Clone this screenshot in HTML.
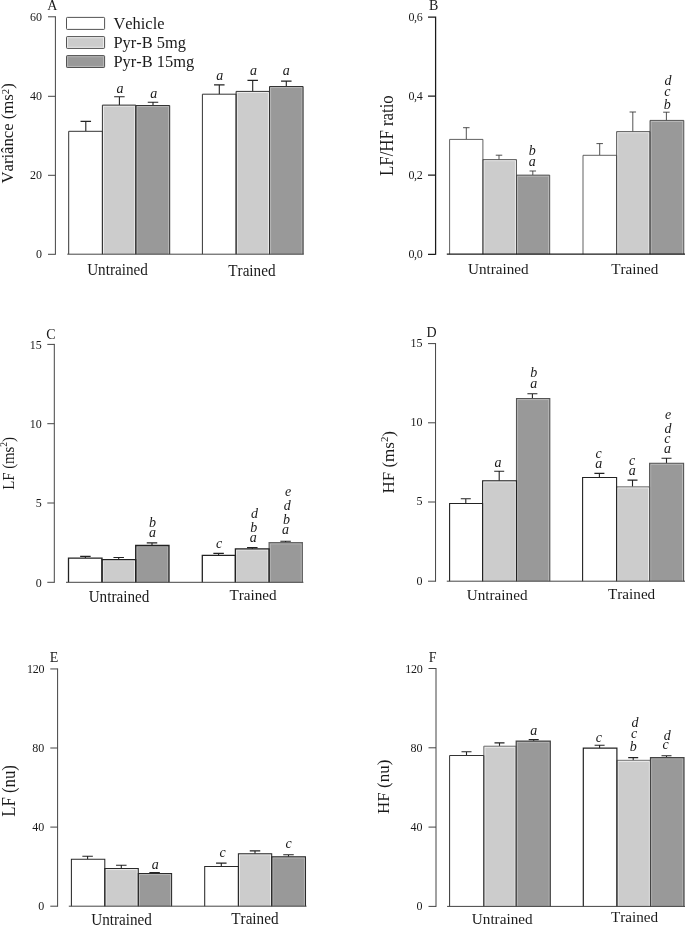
<!DOCTYPE html>
<html lang="en">
<head>
<meta charset="utf-8">
<title>HRV spectral analysis figure</title>
<style>
html,body{margin:0;padding:0;background:#fff;}
svg{display:block;}
text{font-family:"Liberation Serif","Times New Roman",serif;fill:#1a1a1a;font-kerning:none;}
.tk{font-size:12px;text-anchor:end;}
.cat{font-size:15.2px;text-anchor:middle;}
.pl{font-size:14px;}
.sig{font-size:14px;font-style:italic;text-anchor:middle;}
.lg{font-size:16.4px;}
.yl{text-anchor:middle;}
</style>
</head>
<body>
<svg width="685" height="925" viewBox="0 0 685 925">
<rect x="0" y="0" width="685" height="925" fill="#ffffff"/>
<g id="panel-A">
<path d="M85.8 131.3V121.4M80.55 121.4H91.05" stroke="#222" stroke-width="1.1" fill="none"/>
<rect x="68.7" y="131.3" width="33.7" height="122.9" fill="#ffffff"/>
<path d="M119.4 105.1V96.7M114.15 96.7H124.65" stroke="#222" stroke-width="1.1" fill="none"/>
<rect x="102.4" y="105.1" width="33.4" height="149.1" fill="#cccccc"/>
<path d="M103.5 254.2V106.2H134.7V254.2" fill="none" stroke="#fff" stroke-opacity="0.6" stroke-width="1"/>
<path d="M153 105.5V102.3M147.75 102.3H158.25" stroke="#222" stroke-width="1.1" fill="none"/>
<rect x="135.8" y="105.5" width="33.9" height="148.7" fill="#999999"/>
<path d="M136.9 254.2V106.6H168.6V254.2" fill="none" stroke="#fff" stroke-opacity="0.3" stroke-width="1"/>
<path d="M68.7 254.2V131.3H102.4V254.2" fill="none" stroke="#333" stroke-width="1"/>
<path d="M102.4 254.2V105.1H135.8V254.2" fill="none" stroke="#333" stroke-width="1"/>
<path d="M135.8 254.2V105.5H169.7V254.2" fill="none" stroke="#333" stroke-width="1"/>
<text class="sig" x="120.1" y="92.6">a</text>
<text class="sig" x="153.8" y="98">a</text>
<text class="cat" transform="translate(117.5 275) scale(1 1.08)">Untrained</text>
<path d="M219.3 94.2V84.9M214.05 84.9H224.55" stroke="#222" stroke-width="1.1" fill="none"/>
<rect x="202.4" y="94.2" width="33.7" height="160" fill="#ffffff"/>
<path d="M252.7 91.4V80.4M247.45 80.4H257.95" stroke="#222" stroke-width="1.1" fill="none"/>
<rect x="236.1" y="91.4" width="33.4" height="162.8" fill="#cccccc"/>
<path d="M237.2 254.2V92.5H268.4V254.2" fill="none" stroke="#fff" stroke-opacity="0.6" stroke-width="1"/>
<path d="M286.3 86.5V81.1M281.05 81.1H291.55" stroke="#222" stroke-width="1.1" fill="none"/>
<rect x="269.5" y="86.5" width="33.6" height="167.7" fill="#999999"/>
<path d="M270.6 254.2V87.6H302V254.2" fill="none" stroke="#fff" stroke-opacity="0.3" stroke-width="1"/>
<path d="M202.4 254.2V94.2H236.1V254.2" fill="none" stroke="#333" stroke-width="1"/>
<path d="M236.1 254.2V91.4H269.5V254.2" fill="none" stroke="#333" stroke-width="1"/>
<path d="M269.5 254.2V86.5H303.1V254.2" fill="none" stroke="#333" stroke-width="1"/>
<text class="sig" x="219.7" y="79.9">a</text>
<text class="sig" x="253.4" y="75.2">a</text>
<text class="sig" x="286.3" y="75.2">a</text>
<text class="cat" transform="translate(251.9 276.3) scale(1 1.08)">Trained</text>
<path d="M55.4 16.3V254.7M48 254.3H55.4M48 175.3H55.4M48 96.3H55.4M48 16.8H55.4" stroke="#444" stroke-width="1" fill="none"/>
<path d="M67.3 254.2H303.8" stroke="#444" stroke-width="1" fill="none"/>
<text class="tk" x="41.9" y="258.2">0</text>
<text class="tk" x="41.9" y="179.2">20</text>
<text class="tk" x="41.9" y="100.2">40</text>
<text class="tk" x="41.9" y="20.7">60</text>
<text class="pl" x="47.3" y="9.8">A</text>
<text class="yl" font-size="16.7" transform="translate(13 133.4) rotate(-90) scale(1 1.06)">Variânce (ms<tspan dy="-3.51" font-size="10.69">2</tspan><tspan dy="3.51">)</tspan></text>
</g>
<g id="panel-B">
<path d="M466.3 139.4V127.7M463.05 127.7H469.55" stroke="#333" stroke-width="0.85" fill="none"/>
<rect x="449.6" y="139.4" width="33.3" height="114.8" fill="#ffffff"/>
<path d="M499 159.6V155.2M495.75 155.2H502.25" stroke="#333" stroke-width="0.85" fill="none"/>
<rect x="482.9" y="159.6" width="33.6" height="94.6" fill="#cccccc"/>
<path d="M484 254.2V160.7H515.4V254.2" fill="none" stroke="#fff" stroke-opacity="0.6" stroke-width="1"/>
<path d="M532.8 175.1V171M529.55 171H536.05" stroke="#333" stroke-width="0.85" fill="none"/>
<rect x="516.5" y="175.1" width="33.2" height="79.1" fill="#999999"/>
<path d="M517.6 254.2V176.2H548.6V254.2" fill="none" stroke="#fff" stroke-opacity="0.3" stroke-width="1"/>
<path d="M449.6 254.2V139.4H482.9V254.2" fill="none" stroke="#444" stroke-width="0.85"/>
<path d="M482.9 254.2V159.6H516.5V254.2" fill="none" stroke="#444" stroke-width="0.85"/>
<path d="M516.5 254.2V175.1H549.7V254.2" fill="none" stroke="#444" stroke-width="0.85"/>
<text class="sig" x="532.3" y="166">a</text>
<text class="sig" x="532.3" y="154.9">b</text>
<text class="cat" transform="translate(498.3 274) scale(1 1.02)">Untrained</text>
<path d="M599.7 155.3V143.6M596.45 143.6H602.95" stroke="#333" stroke-width="0.85" fill="none"/>
<rect x="583" y="155.3" width="33.6" height="98.9" fill="#ffffff"/>
<path d="M632.8 131.6V112M629.55 112H636.05" stroke="#333" stroke-width="0.85" fill="none"/>
<rect x="616.6" y="131.6" width="33.4" height="122.6" fill="#cccccc"/>
<path d="M617.7 254.2V132.7H648.9V254.2" fill="none" stroke="#fff" stroke-opacity="0.6" stroke-width="1"/>
<path d="M666.4 120.4V112.2M663.15 112.2H669.65" stroke="#333" stroke-width="0.85" fill="none"/>
<rect x="650" y="120.4" width="33.8" height="133.8" fill="#999999"/>
<path d="M651.1 254.2V121.5H682.7V254.2" fill="none" stroke="#fff" stroke-opacity="0.3" stroke-width="1"/>
<path d="M583 254.2V155.3H616.6V254.2" fill="none" stroke="#444" stroke-width="0.85"/>
<path d="M616.6 254.2V131.6H650V254.2" fill="none" stroke="#444" stroke-width="0.85"/>
<path d="M650 254.2V120.4H683.8V254.2" fill="none" stroke="#444" stroke-width="0.85"/>
<text class="sig" x="667.3" y="109.1">b</text>
<text class="sig" x="667.3" y="95.6">c</text>
<text class="sig" x="668" y="85.4">d</text>
<text class="cat" transform="translate(634.8 274.4) scale(1 1.02)">Trained</text>
<path d="M435.6 16.48V254.82M428 254.3H435.6M428 175.2H435.6M428 96.2H435.6M428 17.1H435.6" stroke="#1a1a1a" stroke-width="1.25" fill="none"/>
<path d="M446.8 254.2H685" stroke="#1a1a1a" stroke-width="1.25" fill="none"/>
<text class="tk" x="422.4" y="258.2" letter-spacing="-0.35">0,0</text>
<text class="tk" x="422.4" y="179.1" letter-spacing="-0.35">0,2</text>
<text class="tk" x="422.4" y="100.1" letter-spacing="-0.35">0,4</text>
<text class="tk" x="422.4" y="21" letter-spacing="-0.35">0,6</text>
<text class="pl" x="429" y="10.2">B</text>
<text class="yl" font-size="16.8" transform="translate(392.9 135.6) rotate(-90) scale(1 1.06)">LF/HF ratio</text>
</g>
<g id="panel-C">
<path d="M85.4 558.1V556.4M80.15 556.4H90.65" stroke="#222" stroke-width="1.1" fill="none"/>
<rect x="68.5" y="558.1" width="33.5" height="24.2" fill="#ffffff"/>
<path d="M118.7 559.6V557.5M113.45 557.5H123.95" stroke="#222" stroke-width="1.1" fill="none"/>
<rect x="102" y="559.6" width="33.7" height="22.7" fill="#cccccc"/>
<path d="M103.1 582.3V560.7H134.6V582.3" fill="none" stroke="#fff" stroke-opacity="0.6" stroke-width="1"/>
<path d="M152 545.5V542.9M146.75 542.9H157.25" stroke="#222" stroke-width="1.1" fill="none"/>
<rect x="135.7" y="545.5" width="33.3" height="36.8" fill="#999999"/>
<path d="M136.8 582.3V546.6H167.9V582.3" fill="none" stroke="#fff" stroke-opacity="0.3" stroke-width="1"/>
<path d="M68.5 582.3V558.1H102V582.3" fill="none" stroke="#222" stroke-width="1.3"/>
<path d="M102 582.3V559.6H135.7V582.3" fill="none" stroke="#222" stroke-width="1.3"/>
<path d="M135.7 582.3V545.5H169V582.3" fill="none" stroke="#222" stroke-width="1.3"/>
<text class="sig" x="152.5" y="537.4">a</text>
<text class="sig" x="152.5" y="527.4">b</text>
<text class="cat" transform="translate(119 601.6) scale(1 1.07)">Untrained</text>
<path d="M218.6 555.4V553.4M213.35 553.4H223.85" stroke="#222" stroke-width="1.1" fill="none"/>
<rect x="202.3" y="555.4" width="33.1" height="26.9" fill="#ffffff"/>
<path d="M252.3 548.9V547.6M247.05 547.6H257.55" stroke="#222" stroke-width="1.1" fill="none"/>
<rect x="235.4" y="548.9" width="33.7" height="33.4" fill="#cccccc"/>
<path d="M236.5 582.3V550H268V582.3" fill="none" stroke="#fff" stroke-opacity="0.6" stroke-width="1"/>
<path d="M285.6 542.7V541.3M280.35 541.3H290.85" stroke="#222" stroke-width="1.1" fill="none"/>
<rect x="269.1" y="542.7" width="33.3" height="39.6" fill="#999999"/>
<path d="M270.2 582.3V543.8H301.3V582.3" fill="none" stroke="#fff" stroke-opacity="0.3" stroke-width="1"/>
<path d="M269.1 582.3V542.7H302.4V582.3" fill="none" stroke="#666" stroke-width="1.2"/>
<path d="M202.3 582.3V555.4H235.4V582.3" fill="none" stroke="#222" stroke-width="1.3"/>
<path d="M235.4 582.3V548.9H269.1V582.3" fill="none" stroke="#222" stroke-width="1.3"/>
<text class="sig" x="219" y="548">c</text>
<text class="sig" x="253.2" y="542.3">a</text>
<text class="sig" x="253.8" y="531.7">b</text>
<text class="sig" x="254.4" y="518.4">d</text>
<text class="sig" x="285.5" y="533.7">a</text>
<text class="sig" x="286.5" y="523.5">b</text>
<text class="sig" x="287.2" y="510.2">d</text>
<text class="sig" x="288.1" y="496.3">e</text>
<text class="cat" transform="translate(253 599.7) scale(1 1)">Trained</text>
<path d="M54.3 343.9V582.8M47.3 582.3H54.3M47.3 503H54.3M47.3 423.7H54.3M47.3 344.4H54.3" stroke="#444" stroke-width="1" fill="none"/>
<path d="M66 582.3H303.4" stroke="#444" stroke-width="1" fill="none"/>
<text class="tk" x="41.8" y="586.5">0</text>
<text class="tk" x="41.8" y="507.2">5</text>
<text class="tk" x="41.8" y="427.9">10</text>
<text class="tk" x="41.8" y="348.6">15</text>
<text class="pl" x="46.3" y="338.9">C</text>
<text class="yl" font-size="14.8" transform="translate(13.8 463.4) rotate(-90) scale(1 1.16)">LF (ms<tspan dy="-5.92" font-size="9.47">2</tspan><tspan dy="5.92">)</tspan></text>
</g>
<g id="panel-D">
<path d="M465.8 503.5V498.8M460.8 498.8H470.8" stroke="#222" stroke-width="1.1" fill="none"/>
<rect x="449.6" y="503.5" width="33" height="77.7" fill="#ffffff"/>
<path d="M499.2 480.8V471.3M494.2 471.3H504.2" stroke="#222" stroke-width="1.1" fill="none"/>
<rect x="482.6" y="480.8" width="33.9" height="100.4" fill="#cccccc"/>
<path d="M483.7 581.2V481.9H515.4V581.2" fill="none" stroke="#fff" stroke-opacity="0.6" stroke-width="1"/>
<path d="M532.4 398.5V393.8M527.4 393.8H537.4" stroke="#222" stroke-width="1.1" fill="none"/>
<rect x="516.5" y="398.5" width="33.3" height="182.7" fill="#999999"/>
<path d="M517.6 581.2V399.6H548.7V581.2" fill="none" stroke="#fff" stroke-opacity="0.3" stroke-width="1"/>
<path d="M516.5 581.2V398.5H549.8V581.2" fill="none" stroke="#555" stroke-width="1.1"/>
<path d="M449.6 581.2V503.5H482.6V581.2" fill="none" stroke="#222" stroke-width="1.1"/>
<path d="M482.6 581.2V480.8H516.5V581.2" fill="none" stroke="#222" stroke-width="1.1"/>
<text class="sig" x="497.9" y="467">a</text>
<text class="sig" x="533.7" y="387.8">a</text>
<text class="sig" x="533.7" y="376.9">b</text>
<text class="cat" transform="translate(497.1 600.2) scale(1 1.01)">Untrained</text>
<path d="M599.4 477.5V473.4M594.4 473.4H604.4" stroke="#222" stroke-width="1.1" fill="none"/>
<rect x="582.6" y="477.5" width="34" height="103.7" fill="#ffffff"/>
<path d="M632.5 486.8V480.1M627.5 480.1H637.5" stroke="#222" stroke-width="1.1" fill="none"/>
<rect x="616.6" y="486.8" width="33" height="94.4" fill="#cccccc"/>
<path d="M617.7 581.2V487.9H648.5V581.2" fill="none" stroke="#fff" stroke-opacity="0.6" stroke-width="1"/>
<path d="M666.5 463.2V458.2M661.5 458.2H671.5" stroke="#222" stroke-width="1.1" fill="none"/>
<rect x="649.6" y="463.2" width="34" height="118" fill="#999999"/>
<path d="M650.7 581.2V464.3H682.5V581.2" fill="none" stroke="#fff" stroke-opacity="0.3" stroke-width="1"/>
<path d="M616.6 581.2V486.8H649.6V581.2" fill="none" stroke="#666" stroke-width="0.9"/>
<path d="M649.6 581.2V463.2H683.6V581.2" fill="none" stroke="#555" stroke-width="1.1"/>
<path d="M582.6 581.2V477.5H616.6V581.2" fill="none" stroke="#222" stroke-width="1.1"/>
<text class="sig" x="598.7" y="467.9">a</text>
<text class="sig" x="598.7" y="457.6">c</text>
<text class="sig" x="632.2" y="475">a</text>
<text class="sig" x="632.2" y="465.2">c</text>
<text class="sig" x="667.4" y="453.4">a</text>
<text class="sig" x="667.4" y="442.9">c</text>
<text class="sig" x="668" y="432.7">d</text>
<text class="sig" x="668" y="418.9">e</text>
<text class="cat" transform="translate(631.6 598.5) scale(1 1.01)">Trained</text>
<path d="M435.55 343.1V581.7M428 581.2H435.55M428 502H435.55M428 422.8H435.55M428 343.6H435.55" stroke="#444" stroke-width="1" fill="none"/>
<path d="M446.8 581.2H685" stroke="#444" stroke-width="1" fill="none"/>
<text class="tk" x="422.5" y="584.6">0</text>
<text class="tk" x="422.5" y="505.4">5</text>
<text class="tk" x="422.5" y="426.2">10</text>
<text class="tk" x="422.5" y="347">15</text>
<text class="pl" x="426.5" y="336.7">D</text>
<text class="yl" font-size="17" transform="translate(394.4 462.3) rotate(-90) scale(1 1)">HF (ms<tspan dy="-6.8" font-size="10.88">2</tspan><tspan dy="6.8">)</tspan></text>
</g>
<g id="panel-E">
<path d="M87.6 859.2V856.2M82.35 856.2H92.85" stroke="#222" stroke-width="1.1" fill="none"/>
<rect x="71.4" y="859.2" width="33.4" height="47" fill="#ffffff"/>
<path d="M121.3 868.5V865.2M116.05 865.2H126.55" stroke="#222" stroke-width="1.1" fill="none"/>
<rect x="104.8" y="868.5" width="33.5" height="37.7" fill="#cccccc"/>
<path d="M105.9 906.2V869.6H137.2V906.2" fill="none" stroke="#fff" stroke-opacity="0.6" stroke-width="1"/>
<path d="M154.6 873.5V872.5M149.35 872.5H159.85" stroke="#222" stroke-width="1.1" fill="none"/>
<rect x="138.3" y="873.5" width="33.3" height="32.7" fill="#999999"/>
<path d="M139.4 906.2V874.6H170.5V906.2" fill="none" stroke="#fff" stroke-opacity="0.3" stroke-width="1"/>
<path d="M71.4 906.2V859.2H104.8V906.2" fill="none" stroke="#2a2a2a" stroke-width="1.05"/>
<path d="M104.8 906.2V868.5H138.3V906.2" fill="none" stroke="#2a2a2a" stroke-width="1.05"/>
<path d="M138.3 906.2V873.5H171.6V906.2" fill="none" stroke="#2a2a2a" stroke-width="1.05"/>
<text class="sig" x="155.2" y="869.2">a</text>
<text class="cat" transform="translate(121.6 925) scale(1 1.03)">Untrained</text>
<path d="M221.3 866.4V863.1M216.05 863.1H226.55" stroke="#222" stroke-width="1.1" fill="none"/>
<rect x="204.7" y="866.4" width="33.7" height="39.8" fill="#ffffff"/>
<path d="M255 853.7V850.9M249.75 850.9H260.25" stroke="#222" stroke-width="1.1" fill="none"/>
<rect x="238.4" y="853.7" width="33.3" height="52.5" fill="#cccccc"/>
<path d="M239.5 906.2V854.8H270.6V906.2" fill="none" stroke="#fff" stroke-opacity="0.6" stroke-width="1"/>
<path d="M288.5 856.8V854.7M283.25 854.7H293.75" stroke="#222" stroke-width="1.1" fill="none"/>
<rect x="271.7" y="856.8" width="33.8" height="49.4" fill="#999999"/>
<path d="M272.8 906.2V857.9H304.4V906.2" fill="none" stroke="#fff" stroke-opacity="0.3" stroke-width="1"/>
<path d="M204.7 906.2V866.4H238.4V906.2" fill="none" stroke="#2a2a2a" stroke-width="1.05"/>
<path d="M238.4 906.2V853.7H271.7V906.2" fill="none" stroke="#2a2a2a" stroke-width="1.05"/>
<path d="M271.7 906.2V856.8H305.5V906.2" fill="none" stroke="#2a2a2a" stroke-width="1.05"/>
<text class="sig" x="222.7" y="857.1">c</text>
<text class="sig" x="288.7" y="848.2">c</text>
<text class="cat" transform="translate(254.9 923.8) scale(1 1.03)">Trained</text>
<path d="M57.6 668.45V906.7M50.3 906.2H57.6M50.3 827.1H57.6M50.3 748H57.6M50.3 668.95H57.6" stroke="#444" stroke-width="1" fill="none"/>
<path d="M68.8 906.2H306.5" stroke="#444" stroke-width="1" fill="none"/>
<text class="tk" x="44.3" y="910.4">0</text>
<text class="tk" x="44.3" y="831.3">40</text>
<text class="tk" x="44.3" y="752.2">80</text>
<text class="tk" x="44.3" y="673.15" letter-spacing="-0.25">120</text>
<text class="pl" x="49.7" y="661.5">E</text>
<text class="yl" font-size="16.8" transform="translate(15.2 790.9) rotate(-90) scale(1 1.13)">LF (nu)</text>
</g>
<g id="panel-F">
<path d="M466.5 755.5V751.8M461.5 751.8H471.5" stroke="#222" stroke-width="1.1" fill="none"/>
<rect x="449.6" y="755.5" width="34.2" height="150.9" fill="#ffffff"/>
<path d="M499.5 746.2V742.9M494.5 742.9H504.5" stroke="#222" stroke-width="1.1" fill="none"/>
<rect x="483.8" y="746.2" width="32.4" height="160.2" fill="#cccccc"/>
<path d="M484.9 906.4V747.3H515.1V906.4" fill="none" stroke="#fff" stroke-opacity="0.6" stroke-width="1"/>
<path d="M533.7 741.1V739.6M528.7 739.6H538.7" stroke="#222" stroke-width="1.1" fill="none"/>
<rect x="516.2" y="741.1" width="34.1" height="165.3" fill="#999999"/>
<path d="M517.3 906.4V742.2H549.2V906.4" fill="none" stroke="#fff" stroke-opacity="0.3" stroke-width="1"/>
<path d="M483.8 906.4V746.2H516.2V906.4" fill="none" stroke="#707070" stroke-width="1"/>
<path d="M516.2 906.4V741.1H550.3V906.4" fill="none" stroke="#444" stroke-width="1.2"/>
<path d="M449.6 906.4V755.5H483.8V906.4" fill="none" stroke="#333" stroke-width="1"/>
<text class="sig" x="533.7" y="735.2">a</text>
<text class="cat" transform="translate(502.2 923.9) scale(1 1.02)">Untrained</text>
<path d="M599.6 748.2V745.2M594.6 745.2H604.6" stroke="#222" stroke-width="1.1" fill="none"/>
<rect x="583.3" y="748.2" width="33.6" height="158.2" fill="#ffffff"/>
<path d="M633.2 760.3V757.6M628.2 757.6H638.2" stroke="#222" stroke-width="1.1" fill="none"/>
<rect x="616.9" y="760.3" width="33.6" height="146.1" fill="#cccccc"/>
<path d="M618 906.4V761.4H649.4V906.4" fill="none" stroke="#fff" stroke-opacity="0.6" stroke-width="1"/>
<path d="M666.5 757.6V755.7M661.5 755.7H671.5" stroke="#222" stroke-width="1.1" fill="none"/>
<rect x="650.5" y="757.6" width="33.5" height="148.8" fill="#999999"/>
<path d="M651.6 906.4V758.7H682.9V906.4" fill="none" stroke="#fff" stroke-opacity="0.3" stroke-width="1"/>
<path d="M616.9 906.4V760.3H650.5V906.4" fill="none" stroke="#707070" stroke-width="0.95"/>
<path d="M650.5 906.4V757.6H684V906.4" fill="none" stroke="#444" stroke-width="1.2"/>
<path d="M583.3 906.4V748.2H616.9V906.4" fill="none" stroke="#222" stroke-width="1.2"/>
<text class="sig" x="598.9" y="741.9">c</text>
<text class="sig" x="633.2" y="750.9">b</text>
<text class="sig" x="634.2" y="738.3">c</text>
<text class="sig" x="634.9" y="726.6">d</text>
<text class="sig" x="665.7" y="749.2">c</text>
<text class="sig" x="667.2" y="740.2">d</text>
<text class="cat" transform="translate(634.6 922) scale(1 1.02)">Trained</text>
<path d="M436 668V906.9M428.5 906.4H436M428.5 827.1H436M428.5 747.8H436M428.5 668.5H436" stroke="#444" stroke-width="1" fill="none"/>
<path d="M447.1 906.4H685" stroke="#444" stroke-width="1" fill="none"/>
<text class="tk" x="422.6" y="910.4">0</text>
<text class="tk" x="422.6" y="831.1">40</text>
<text class="tk" x="422.6" y="751.8">80</text>
<text class="tk" x="422.6" y="672.5" letter-spacing="-0.25">120</text>
<text class="pl" x="428.8" y="661.6">F</text>
<text class="yl" font-size="17" transform="translate(389.4 786.8) rotate(-90) scale(1 0.97)">HF (nu)</text>
</g>
<g id="legend">
<rect x="66.5" y="17.4" width="38.1" height="12" rx="0.8" fill="#ffffff" stroke="#4a4a4a" stroke-width="0.95"/>
<text class="lg" x="113.5" y="28.7">Vehicle</text>
<rect x="66.5" y="36.6" width="38.1" height="11.8" rx="0.8" fill="#cccccc" stroke="#4a4a4a" stroke-width="0.95"/>
<rect x="67.6" y="37.7" width="35.9" height="9.6" fill="none" stroke="#fff" stroke-opacity="0.6" stroke-width="1"/>
<text class="lg" x="113.5" y="48.2">Pyr-B 5mg</text>
<rect x="66.5" y="55.6" width="38.1" height="11.9" rx="0.8" fill="#999999" stroke="#4a4a4a" stroke-width="0.95"/>
<rect x="67.6" y="56.7" width="35.9" height="9.7" fill="none" stroke="#fff" stroke-opacity="0.3" stroke-width="1"/>
<text class="lg" x="113.5" y="67.3">Pyr-B 15mg</text>
</g>
</svg>
</body>
</html>
